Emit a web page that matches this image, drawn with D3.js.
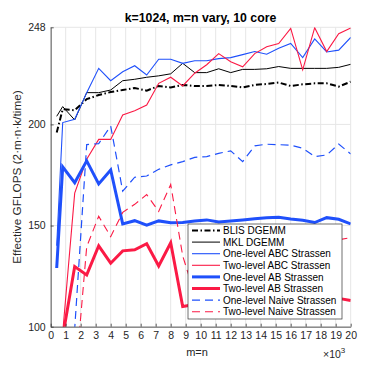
<!DOCTYPE html>
<html><head><meta charset="utf-8">
<script src="https://cdn.jsdelivr.net/npm/d3@7"></script>
<style>html,body{margin:0;padding:0;background:#fff;}svg{display:block;font-family:"Liberation Sans",Arial,Helvetica,sans-serif;}</style>
</head><body>
<script>
// ---- data (m=n in thousands, values in GFLOPS) ----
const mn = [0.4, 0.8, 1.6, 2.4, 3.2, 4.0, 4.8, 5.6, 6.4, 7.2, 8.0, 8.8, 9.6, 10.4, 11.2, 12.0, 12.8, 13.6, 14.4, 15.2, 16.0, 16.8, 17.6, 18.4, 19.2, 20.0];
const blisDgemm = [196, 207.5, 207, 212.5, 214.5, 216, 217, 218, 216.7, 219, 218.3, 219.5, 219, 219, 219.5, 219, 218.3, 219.5, 220, 220.7, 219, 219.8, 220.3, 220.3, 218.7, 221.1];
const mklDgemm = [204, 208.8, 202.2, 215.7, 215.7, 217, 221.6, 222.3, 223.3, 224, 225, 230.2, 225.6, 225.6, 227.5, 225.6, 227.2, 227.2, 227.5, 228.6, 227.7, 227.7, 227.7, 227.7, 228.2, 229.7];
const oneLevelABC = [140, 200.9, 202.5, 215.7, 227.7, 221.6, 226, 229, 224.4, 232.2, 232.2, 230.2, 231.5, 231.5, 232.5, 233, 234.5, 236, 234.7, 237.6, 240, 233, 242.3, 235.8, 236.7, 243];
const twoLevelABC = [60, 97, 166, 182.8, 192.6, 192.6, 204.7, 206.8, 209.6, 220.3, 223.3, 219, 225.3, 229.5, 235, 231, 228.5, 235, 238.4, 240, 247.5, 227, 247.8, 236, 244.8, 247.6];
const oneLevelAB = [129, 179, 171.2, 182, 170.6, 177.5, 150.8, 152.4, 150.2, 152.3, 151.4, 151.5, 152.3, 152.8, 151.8, 152.3, 152.8, 153.4, 153.8, 154.1, 153.2, 152.6, 151.5, 153.9, 153.1, 150.8];
const twoLevelAB = [50, 95, 129.7, 125.6, 140, 131.4, 137.5, 138, 141, 130, 141.5, 110, 111, 112, 112, 113, 113, 113, 114, 114, 113, 114, 115, 114, 114, 113];
const oneLevelNaive = [60, 80, 99, 190, 190.5, 199.2, 167, 173.9, 174.5, 177.8, 180, 181.6, 183.7, 184.1, 185.7, 186.9, 181.6, 189.4, 190.2, 190, 189.7, 188.2, 184.1, 184.9, 190.3, 185.4];
const twoLevelNaive = [40, 50, 70, 139.5, 154.6, 144.5, 156.5, 160.5, 165.3, 157, 170.3, 135, 116, 125, 130, 135, 138, 136, 140, 141, 139, 142, 141, 142, 143, 144];
const seriesNames = ["BLIS DGEMM", "MKL DGEMM", "One-level ABC Strassen", "Two-level ABC Strassen", "One-level AB Strassen", "Two-level AB Strassen", "One-level Naive Strassen", "Two-level Naive Strassen"];
const xTicks = d3.range(0, 21, 1);
const yTicks = [100, 150, 200, 248];
const titleText = "k=1024, m=n vary, 10 core";
const xLabel = "m=n";
const yLabel = "Effective GFLOPS (2\u00b7m\u00b7n\u00b7k/time)";

// ---- styles ----
const BLUE = "#1f50fb", RED = "#fb1a45";
const styles = [
  {color:"#000", width:2, dash:"6,2.5,1.5,2.5"},
  {color:"#000", width:1, dash:null},
  {color:BLUE, width:1.1, dash:null},
  {color:RED, width:1.1, dash:null},
  {color:BLUE, width:3, dash:null},
  {color:RED, width:3, dash:null},
  {color:BLUE, width:1.2, dash:"8,5"},
  {color:RED, width:1.1, dash:"8,5"}
];
const allSeries = [blisDgemm, mklDgemm, oneLevelABC, twoLevelABC, oneLevelAB, twoLevelAB, oneLevelNaive, twoLevelNaive];

const W = 387, H = 369;
const m = {left: 50.7, right: 36.3, top: 27.3, bottom: 42.3};
const svg = d3.select("body").append("svg").attr("width", W).attr("height", H);
svg.append("rect").attr("width", W).attr("height", H).attr("fill", "#fff");

const x = d3.scaleLinear().domain([0, 20]).range([m.left, W - m.right]);
const y = d3.scaleLinear().domain([100, 248]).range([H - m.bottom, m.top]);

// grid
const g = svg.append("g");
g.selectAll(".vg").data(xTicks).enter().append("line")
  .attr("x1", d => x(d)).attr("x2", d => x(d)).attr("y1", y(100)).attr("y2", y(248))
  .attr("stroke", "#e6e6e6").attr("stroke-width", 1);
g.selectAll(".hg").data(yTicks).enter().append("line")
  .attr("x1", x(0)).attr("x2", x(20)).attr("y1", d => y(d)).attr("y2", d => y(d))
  .attr("stroke", "#e6e6e6").attr("stroke-width", 1);

// clip
svg.append("clipPath").attr("id", "clip").append("rect")
  .attr("x", x(0)).attr("y", y(248)).attr("width", x(20) - x(0)).attr("height", y(100) - y(248));

const line = d3.line().x((d, i) => x(mn[i])).y(d => y(d));
const lines = svg.append("g").attr("clip-path", "url(#clip)");
allSeries.forEach((s, k) => {
  lines.append("path").datum(s).attr("d", line)
    .attr("fill", "none").attr("stroke", styles[k].color).attr("stroke-width", styles[k].width)
    .attr("stroke-dasharray", styles[k].dash).attr("stroke-linejoin", "miter");
});

// axes
const axisColor = "#333";
const xAxis = svg.append("g").attr("transform", `translate(0,${y(100)})`)
  .call(d3.axisBottom(x).tickValues(xTicks).tickSizeInner(-3).tickSizeOuter(0).tickPadding(5).tickFormat(d3.format("d")));
const yAxis = svg.append("g").attr("transform", `translate(${x(0)},0)`)
  .call(d3.axisLeft(y).tickValues(yTicks).tickSizeInner(-3).tickSizeOuter(0).tickPadding(5));
[xAxis, yAxis].forEach(a => {
  a.select(".domain").attr("stroke", axisColor).attr("stroke-width", 0.8);
  a.selectAll(".tick line").attr("stroke", axisColor).attr("stroke-width", 0.8);
  a.selectAll(".tick text").attr("fill", "#262626").attr("font-size", 10.5).attr("font-family", "Liberation Sans, Arial, sans-serif");
});

// title / labels
svg.append("text").attr("x", 200.5).attr("y", 21.5).attr("text-anchor", "middle")
  .attr("font-weight", "bold").attr("font-size", 12.3).attr("fill", "#000").text(titleText);
svg.append("text").attr("x", 197).attr("y", 356).attr("text-anchor", "middle")
  .attr("font-size", 11).attr("fill", "#262626").text(xLabel);
svg.append("text").attr("transform", `translate(21,${(y(100)+y(248))/2}) rotate(-90)`)
  .attr("text-anchor", "middle").attr("font-size", 11.8).attr("fill", "#262626").text(yLabel);
const mult = svg.append("text").attr("x", 323).attr("y", 358).attr("font-size", 10.5).attr("fill", "#262626");
mult.append("tspan").text("\u00d710");
mult.append("tspan").attr("font-size", 8).attr("dy", -5).text("3");

// legend
const lg = svg.append("g");
const lx = 188, ly = 224, lw = 154, lh = 95;
lg.append("rect").attr("x", lx).attr("y", ly).attr("width", lw).attr("height", lh)
  .attr("fill", "#fff").attr("stroke", "#333").attr("stroke-width", 0.7);
seriesNames.forEach((name, k) => {
  const yy = ly + 6.5 + k * 11.6;
  lg.append("line").attr("x1", lx + 4).attr("x2", lx + 32).attr("y1", yy).attr("y2", yy)
    .attr("stroke", styles[k].color).attr("stroke-width", styles[k].width).attr("stroke-dasharray", styles[k].dash);
  lg.append("text").attr("x", lx + 35).attr("y", yy + 3.6).attr("font-size", 10).attr("fill", "#000").text(name);
});
</script>
</body></html>
